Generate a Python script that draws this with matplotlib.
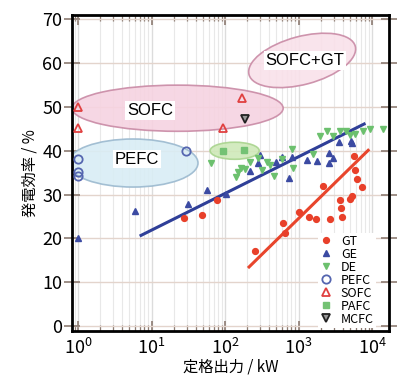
import matplotlib
matplotlib.use('Agg')
import matplotlib.pyplot as plt
from matplotlib.patches import Ellipse
from matplotlib.ticker import LogLocator, NullFormatter

plt.rcParams['font.family'] = ['Noto Sans CJK JP', 'DejaVu Sans']

# --- datos ---
gt_x = [28, 49, 78, 256, 615, 655, 1020, 1390, 1730, 2150, 2690, 3670, 3790, 3910,
        5020, 5350, 5690, 5870, 6250, 7310]
gt_y = [24.6, 25.3, 28.7, 17.1, 23.5, 21.2, 26.0, 24.9, 24.4, 31.9, 24.4, 28.7, 26.9, 24.9,
        29.0, 29.6, 38.8, 35.6, 33.5, 31.7]

ge_x = [1.0, 6.0, 31, 57, 103, 219, 281, 299, 494, 597, 743, 816, 1306, 1785,
        2600, 2945, 2600, 3555, 5180, 5345]
ge_y = [20.0, 26.2, 27.8, 31.0, 30.1, 35.3, 37.2, 39.0, 37.4, 38.5, 33.7, 38.5, 37.8, 37.6,
        39.4, 38.3, 37.2, 42.0, 42.2, 41.7]

de_x = [64, 141, 150, 165, 187, 219, 281, 319, 373, 410, 464, 597, 816, 842,
        1575, 1963, 2443, 2945, 3670, 4430, 5020, 5870, 7545, 9400, 14100]
de_y = [37.2, 34.0, 35.1, 36.0, 35.8, 37.4, 38.3, 35.6, 37.4, 36.7, 34.2, 38.1, 40.4, 36.0,
        39.2, 43.3, 44.5, 43.3, 44.5, 44.5, 43.5, 43.8, 44.5, 44.9, 44.9]

pefc_x = [1.0, 1.0, 1.0, 29.5]
pefc_y = [38.1, 35.1, 34.2, 39.9]

sofc_x = [1.0, 1.0, 170, 94]
sofc_y = [49.9, 45.1, 52.0, 45.1]

pafc_x = [94, 181]
pafc_y = [39.9, 40.1]

mcfc_x = [187]
mcfc_y = [47.2]

# rectas de tendencia (extremos)
ge_fit_x = [7.2, 7780]
ge_fit_y = [20.7, 46.1]
gt_fit_x = [212, 8830]
gt_fit_y = [13.5, 40.1]

# zonas: nombre, centro x, centro y, ancho/alto (fracción de ejes), ángulo, relleno, borde
zonas = [
    ('SOFC', 22.6, 49.7, 0.666, 0.146, 0, '#f6d3e1', '#c98aa5'),
    ('SOFC+GT', 1117, 60.6, 0.347, 0.152, 15, '#f9e1ea', '#c98aa5'),
    ('PEFC', 5.6, 37.2, 0.41, 0.152, 0, '#d9edf5', '#9bb9cf'),
    ('PAFC', 135, 40.0, 0.155, 0.054, 0, '#cfe9b9', '#a9d48e'),
]
etiquetas = [('SOFC', 9.5, 49.2), ('PEFC', 6.35, 38.1), ('SOFC+GT', 1225, 60.6)]

fig = plt.figure(figsize=(4.07, 3.8), dpi=100)
ax = fig.add_axes([0.177, 0.129, 0.779, 0.832])
ax.set_xscale('log')
ax.set_xlim(0.83, 17000)
ax.set_ylim(-1.1, 71)

# rejilla
ax.set_yticks(range(0, 71, 10))
ax.xaxis.set_major_locator(LogLocator(base=10, numticks=10))
ax.xaxis.set_minor_locator(LogLocator(base=10, subs=range(2, 10), numticks=20))
ax.xaxis.set_minor_formatter(NullFormatter())
ax.grid(axis='y', color='#e3d4cc', lw=1.0, zorder=0)
ax.grid(axis='x', which='major', color='#dcdcdc', lw=1.0, zorder=0)
ax.grid(axis='x', which='minor', color='#e8e8e8', lw=0.8, zorder=0)
ax.set_axisbelow(True)

# elipses
for nombre, cx, cy, w, h, ang, fc, ec in zonas:
    px, py = ax.transAxes.inverted().transform(ax.transData.transform((cx, cy)))
    e = Ellipse((px, py), w, h, angle=ang, transform=ax.transAxes,
                facecolor=fc, edgecolor=ec, lw=1.2, alpha=0.9, zorder=1)
    ax.add_patch(e)

for texto, tx, ty in etiquetas:
    ax.text(tx, ty, texto, ha='center', va='center', fontsize=12,
            family=['Liberation Sans', 'DejaVu Sans'], zorder=4,
            bbox=dict(boxstyle='square,pad=0.1', fc='white', ec='none'))

# rectas
ax.plot(ge_fit_x, ge_fit_y, color='#2f3f98', lw=2.2, zorder=3)
ax.plot(gt_fit_x, gt_fit_y, color='#e8452c', lw=2.2, zorder=3)

# puntos
ax.plot(gt_x, gt_y, 'o', ls='none', color='#e8402a', ms=4.2, label='GT', zorder=5)
ax.plot(ge_x, ge_y, '^', ls='none', color='#3b4aa2', ms=4.2, label='GE', zorder=5)
ax.plot(de_x, de_y, 'v', ls='none', color='#6cc06e', ms=4.4, label='DE', zorder=5)
ax.plot(pefc_x, pefc_y, 'o', ls='none', mfc='none', mec='#5566b0', mew=1.3, ms=6,
        label='PEFC', zorder=5)
ax.plot(sofc_x, sofc_y, '^', ls='none', mfc='none', mec='#e04040', mew=1.3, ms=6,
        label='SOFC', zorder=5)
ax.plot(pafc_x, pafc_y, 's', ls='none', color='#74c274', ms=5, label='PAFC', zorder=5)
ax.plot(mcfc_x, mcfc_y, 'v', ls='none', mfc='#999999', mec='#222222', mew=1.3, ms=5.5,
        label='MCFC', zorder=5)

leg = ax.legend(loc='upper left', bbox_to_anchor=(0.775, 0.31), fontsize=9,
                frameon=True, fancybox=False, framealpha=1, edgecolor='none',
                borderpad=0.15, handlelength=1.0, handletextpad=0.7,
                labelspacing=0.0, borderaxespad=0)
leg.set_zorder(6)

# ejes
for s in ax.spines.values():
    s.set_linewidth(2.0)
    s.set_color('black')
ax.tick_params(axis='both', which='major', direction='in', length=7, width=1.2,
               color='#8c7b72', labelsize=13, top=True, right=True)
ax.tick_params(axis='x', which='minor', direction='in', length=4, width=0.9,
               color='#8c7b72', top=True)
ax.tick_params(axis='x', which='major', pad=5)
ax.tick_params(axis='y', which='major', direction='inout', length=12, pad=1)
ax.tick_params(axis='y', which='major', right=True)

ax.set_xlabel('定格出力 / kW', fontsize=11, labelpad=0)
ax.set_ylabel('発電効率 / %', fontsize=11, labelpad=3)

fig.savefig('out.png', dpi=100)
